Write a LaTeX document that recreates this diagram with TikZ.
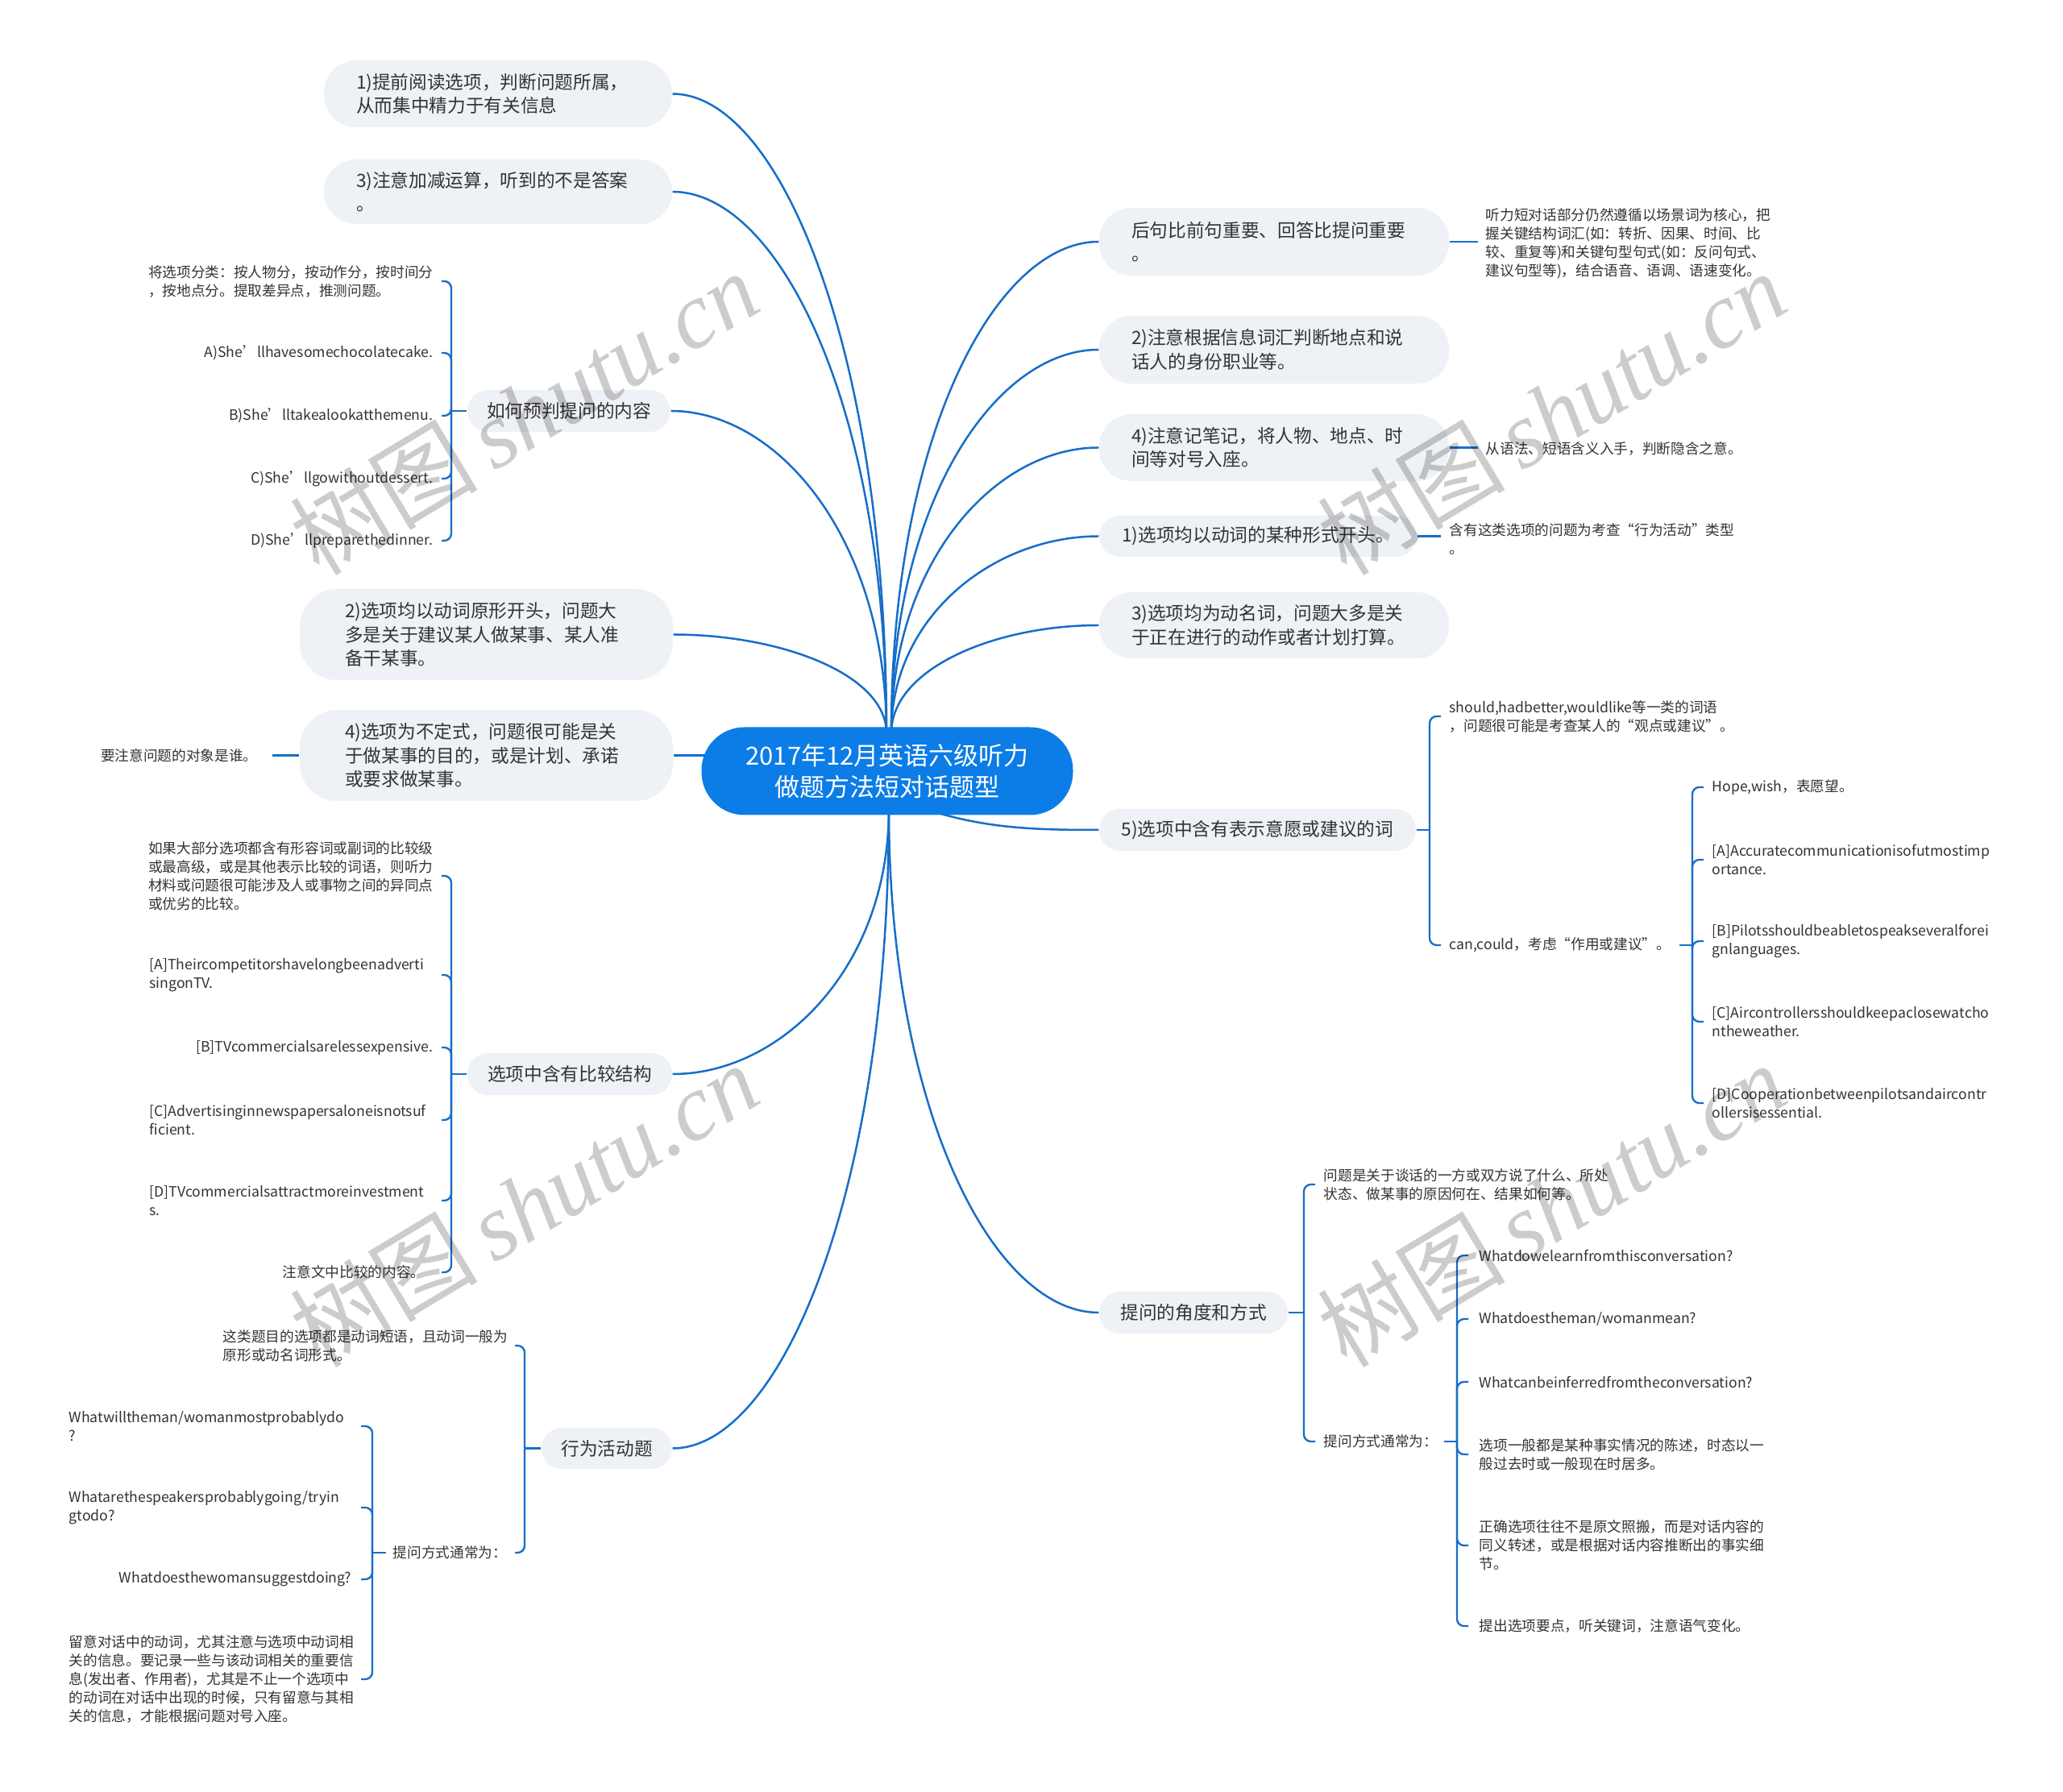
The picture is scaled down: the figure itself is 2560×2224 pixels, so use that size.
\documentclass[tikz,border=0pt]{standalone}
\usepackage{fontspec}
\setmainfont{Noto Sans CJK SC}
\newfontfamily\wmserif{Liberation Serif}
\usetikzlibrary{calc}
\pgfdeclarelayer{back}
\pgfdeclarelayer{bg}
\pgfsetlayers{back,bg,main}
\definecolor{lineblue}{RGB}{22,110,200}
\definecolor{mainblue}{RGB}{12,124,230}
\definecolor{nodegray}{RGB}{238,241,245}
\definecolor{txt}{RGB}{51,51,51}
\newcommand\mcurve[2]{\draw[conn] (#1) .. controls ($(#1)!0.6!(#1|-#2)$) and ($(#2)!0.5!(#2-|#1)$) .. (#2);}
\begin{document}
\begin{tikzpicture}[x=0.3pt,y=-0.3pt,
 conn/.style={draw=lineblue,line width=0.75pt},
 brk/.style={draw=lineblue,line width=0.7pt,rounded corners=2.6pt},
 br/.style={fill=nodegray,text=txt,font=\fontsize{6.8pt}{8.85pt}\selectfont,inner xsep=12pt,inner ysep=0pt,align=left},
 brc/.style={br,align=center,inner xsep=0pt},
 leaf/.style={text=txt,font=\fontsize{5.3pt}{6.9pt}\selectfont,inner sep=0pt,align=left},
 wm/.style={text=black,text opacity=0.2,rotate=31,inner sep=0pt,font=\fontsize{35pt}{40pt}\selectfont}]
\useasboundingbox (0,0) rectangle (2560,2224);
\begin{pgfonlayer}{back}
\fill[white] (0,0) rectangle (2560,2224);
\end{pgfonlayer}

% centre
\node[fill=mainblue,text=white,rounded corners=16pt,minimum width=138.3pt,minimum height=32.7pt,align=center,inner sep=0pt,font=\fontsize{9.3pt}{11.7pt}\selectfont] (C) at (1101,957) {2017年12月英语六级听力\\做题方法短对话题型};
\coordinate (ctl) at (1100,910);
\coordinate (ctr) at (1106,910);
\coordinate (cbot) at (1103,1004);
\coordinate (c6) at (1164,1009);

% left branches
\node[br,text width=105.6pt,minimum height=24.9pt,rounded corners=12pt] (B1) at (618,116.5) {1)提前阅读选项，判断问题所属，\\从而集中精力于有关信息};
\node[br,text width=105.6pt,minimum height=24pt,rounded corners=12pt] (B2) at (618,238) {3)注意加减运算，听到的不是答案\\。};
\node[brc,minimum width=75.6pt,minimum height=15.6pt,rounded corners=7.8pt] (B3) at (706,510) {如何预判提问的内容};
\node[br,text width=105.3pt,inner xsep=16.8pt,minimum height=33.9pt,rounded corners=14pt] (B4) at (603.5,787.5) {2)选项均以动词原形开头，问题大\\多是关于建议某人做某事、某人准\\备干某事。};
\node[br,text width=105.3pt,inner xsep=16.8pt,minimum height=33.9pt,rounded corners=14pt] (B5) at (603.5,937.5) {4)选项为不定式，问题很可能是关\\于做某事的目的，或是计划、承诺\\或要求做某事。};
\node[brc,minimum width=76.2pt,minimum height=15.6pt,rounded corners=7.8pt] (B6) at (707,1333) {选项中含有比较结构};
\node[brc,minimum width=48.6pt,minimum height=15.3pt,rounded corners=7.6pt] (B7) at (753,1797.5) {行为活动题};

% right branches
\node[br,text width=106.2pt,minimum height=25.2pt,rounded corners=12pt] (R1) at (1581,300) {后句比前句重要、回答比提问重要\\。};
\node[br,text width=106.2pt,minimum height=25.2pt,rounded corners=12pt] (R2) at (1581,434) {2)注意根据信息词汇判断地点和说\\话人的身份职业等。};
\node[br,text width=106.2pt,minimum height=24.9pt,rounded corners=12pt] (R3) at (1581,555.5) {4)注意记笔记，将人物、地点、时\\间等对号入座。};
\node[brc,minimum width=118.2pt,minimum height=15.3pt,rounded corners=7.6pt] (R4) at (1561,665.5) {1)选项均以动词的某种形式开头。};
\node[br,text width=106.2pt,minimum height=24.6pt,rounded corners=12pt] (R5) at (1581,776) {3)选项均为动名词，问题大多是关\\于正在进行的动作或者计划打算。};
\node[brc,minimum width=117.9pt,minimum height=15.6pt,rounded corners=7.8pt] (R6) at (1560.5,1030) {5)选项中含有表示意愿或建议的词};
\node[brc,minimum width=70.2pt,minimum height=15.6pt,rounded corners=7.8pt] (R7) at (1481,1629) {提问的角度和方式};

% leaves of B3
\node[leaf,anchor=east] (L31) at (538,349) {将选项分类：按人物分，按动作分，按时间分\\，按地点分。提取差异点，推测问题。};
\node[leaf,anchor=east] (L32) at (538,438) {A)She’llhavesomechocolatecake.};
\node[leaf,anchor=east] (L33) at (538,516) {B)She’lltakealookatthemenu.};
\node[leaf,anchor=east] (L34) at (538,594) {C)She’llgowithoutdessert.};
\node[leaf,anchor=east] (L35) at (538,671) {D)She’llpreparethedinner.};
% leaf of B5
\node[leaf,anchor=east] (L51) at (320,937.5) {要注意问题的对象是谁。};
% leaves of B6
\node[leaf,anchor=east] (L61) at (538,1087) {如果大部分选项都含有形容词或副词的比较级\\或最高级，或是其他表示比较的词语，则听力\\材料或问题很可能涉及人或事物之间的异同点\\或优劣的比较。};
\node[leaf,anchor=west] (L62) at (185,1210) {[A]Theircompetitorshavelongbeenadverti\\singonTV.};
\node[leaf,anchor=east] (L63) at (538,1300) {[B]TVcommercialsarelessexpensive.};
\node[leaf,anchor=west] (L64) at (185,1390) {[C]Advertisinginnewspapersaloneisnotsuf\\ficient.};
\node[leaf,anchor=west] (L65) at (185,1490) {[D]TVcommercialsattractmoreinvestment\\s.};
\node[leaf,anchor=east] (L66) at (528,1579) {注意文中比较的内容。};
% leaves of B7
\node[leaf,anchor=west] (L71) at (276,1670) {这类题目的选项都是动词短语，且动词一般为\\原形或动名词形式。};
\node[leaf,anchor=west] (L72) at (487,1927) {提问方式通常为：};
\node[leaf,anchor=west] (L73) at (85,1770) {Whatwilltheman/womanmostprobablydo\\?};
\node[leaf,anchor=west] (L74) at (85,1871) {Whatarethespeakersprobablygoing/tryin\\gtodo?};
\node[leaf,anchor=east] (L75) at (437,1960) {Whatdoesthewomansuggestdoing?};
\node[leaf,anchor=west] (L76) at (85,2084) {留意对话中的动词，尤其注意与选项中动词相\\关的信息。要记录一些与该动词相关的重要信\\息(发出者、作用者)，尤其是不止一个选项中\\的动词在对话中出现的时候，只有留意与其相\\关的信息，才能根据问题对号入座。};

% right leaves
\node[leaf,anchor=west] (RL1) at (1843,302) {听力短对话部分仍然遵循以场景词为核心，把\\握关键结构词汇(如：转折、因果、时间、比\\较、重复等)和关键句型句式(如：反问句式、\\建议句型等)，结合语音、语调、语速变化。};
\node[leaf,anchor=west] (RL3) at (1843,557) {从语法、短语含义入手，判断隐含之意。};
\node[leaf,anchor=west] (RL4) at (1798,669) {含有这类选项的问题为考查“行为活动”类型\\。};
\node[leaf,anchor=west] (RL61) at (1798,889) {should,hadbetter,wouldlike等一类的词语\\，问题很可能是考查某人的“观点或建议”。};
\node[leaf,anchor=west] (RL62) at (1798,1173) {can,could，考虑“作用或建议”。};
\node[leaf,anchor=west] (RL63) at (2124,977) {Hope,wish，表愿望。};
\node[leaf,anchor=west] (RL64) at (2124,1067) {[A]Accuratecommunicationisofutmostimp\\ortance.};
\node[leaf,anchor=west] (RL65) at (2124,1168) {[B]Pilotsshouldbeabletospeakseveralforei\\gnlanguages.};
\node[leaf,anchor=west] (RL66) at (2124,1268) {[C]Aircontrollersshouldkeepaclosewatcho\\ntheweather.};
\node[leaf,anchor=west] (RL67) at (2124,1369) {[D]Cooperationbetweenpilotsandaircontr\\ollersisessential.};
\node[leaf,anchor=west] (RL71) at (1642,1470) {问题是关于谈话的一方或双方说了什么、所处\\状态、做某事的原因何在、结果如何等。};
\node[leaf,anchor=west] (RL72) at (1642,1789) {提问方式通常为：};
\node[leaf,anchor=west] (RL73) at (1835,1558) {Whatdowelearnfromthisconversation?};
\node[leaf,anchor=west] (RL74) at (1835,1637) {Whatdoestheman/womanmean?};
\node[leaf,anchor=west] (RL75) at (1835,1715) {Whatcanbeinferredfromtheconversation?};
\node[leaf,anchor=west] (RL76) at (1835,1805) {选项一般都是某种事实情况的陈述，时态以一\\般过去时或一般现在时居多。};
\node[leaf,anchor=west] (RL77) at (1835,1918) {正确选项往往不是原文照搬，而是对话内容的\\同义转述，或是根据对话内容推断出的事实细\\节。};
\node[leaf,anchor=west] (RL78) at (1835,2018) {提出选项要点，听关键词，注意语气变化。};

% junction coordinates
\coordinate (J3) at (560,510);   \coordinate (hk3) at (548,0);
\coordinate (hkB5) at (338,0);
\coordinate (J6) at (560,1333);  \coordinate (hk6) at (548,0);
\coordinate (J7) at (651,1797.5); \coordinate (hk7) at (639,0);
\coordinate (J72) at (462,1927); \coordinate (st72) at (479,0); \coordinate (hk72) at (448,0);
\coordinate (hkR1) at (1834,0);
\coordinate (hkR4) at (1788,0);
\coordinate (JR6) at (1774,1030); \coordinate (hkR6) at (1788,0);
\coordinate (JR62) at (2100,1173); \coordinate (stR62) at (2084,0); \coordinate (hkR62) at (2114,0);
\coordinate (JR7) at (1618,1629); \coordinate (hkR7) at (1632,0);
\coordinate (JR72) at (1808,1789); \coordinate (stR72) at (1792,0); \coordinate (hkR72) at (1822,0);

\begin{pgfonlayer}{bg}
% main connectors
\mcurve{ctl}{B1.east}
\mcurve{ctl}{B2.east}
\mcurve{ctl}{B3.east}
\mcurve{ctl}{B4.east}
\mcurve{ctr}{R1.west}
\mcurve{ctr}{R2.west}
\mcurve{ctr}{R3.west}
\mcurve{ctr}{R4.west}
\mcurve{ctr}{R5.west}
\mcurve{cbot}{B6.east}
\mcurve{cbot}{B7.east}
\mcurve{cbot}{R7.west}
\draw[conn] (B5.east) -- ([xshift=3pt]C.west |- B5.east);
\draw[conn] (c6) .. controls (1230,1028) and (1285,1030) .. (R6.west);
% brackets
\draw[brk] (B3.west) -- (J3);
\foreach \n in {L31,L32,L33,L34,L35} \draw[brk] (J3) |- (\n.east -| hk3);
\draw[brk] (B5.west) -- (B5.west -| hkB5);
\draw[brk] (B6.west) -- (J6);
\foreach \n in {L61,L62,L63,L64,L65,L66} \draw[brk] (J6) |- (\n.east -| hk6);
\draw[brk] (B7.west) -- (J7);
\foreach \n in {L71,L72} \draw[brk] (J7) |- (\n.east -| hk7);
\draw[brk] (L72.west -| st72) -- (J72);
\foreach \n in {L73,L74,L75,L76} \draw[brk] (J72) |- (\n.east -| hk72);
\draw[brk] (R1.east) -- (R1.east -| hkR1);
\draw[brk] (R3.east) -- (R3.east -| hkR1);
\draw[brk] (R4.east) -- (R4.east -| hkR4);
\draw[brk] (R6.east) -- (JR6);
\foreach \n in {RL61,RL62} \draw[brk] (JR6) |- (\n.west -| hkR6);
\draw[brk] (RL62.east -| stR62) -- (JR62);
\foreach \n in {RL63,RL64,RL65,RL66,RL67} \draw[brk] (JR62) |- (\n.west -| hkR62);
\draw[brk] (R7.east) -- (JR7);
\foreach \n in {RL71,RL72} \draw[brk] (JR7) |- (\n.west -| hkR7);
\draw[brk] (RL72.east -| stR72) -- (JR72);
\foreach \n in {RL73,RL74,RL75,RL76,RL77,RL78} \draw[brk] (JR72) |- (\n.west -| hkR72);
\end{pgfonlayer}

% watermarks
\node[wm] (W1) at (650,512) {树图\,{\wmserif\itshape shutu.cn}};
\node[wm] (W2) at (1925,512) {树图\,{\wmserif\itshape shutu.cn}};
\node[wm] (W3) at (650,1495) {树图\,{\wmserif\itshape shutu.cn}};
\node[wm] (W4) at (1925,1495) {树图\,{\wmserif\itshape shutu.cn}};
\end{tikzpicture}
\end{document}
